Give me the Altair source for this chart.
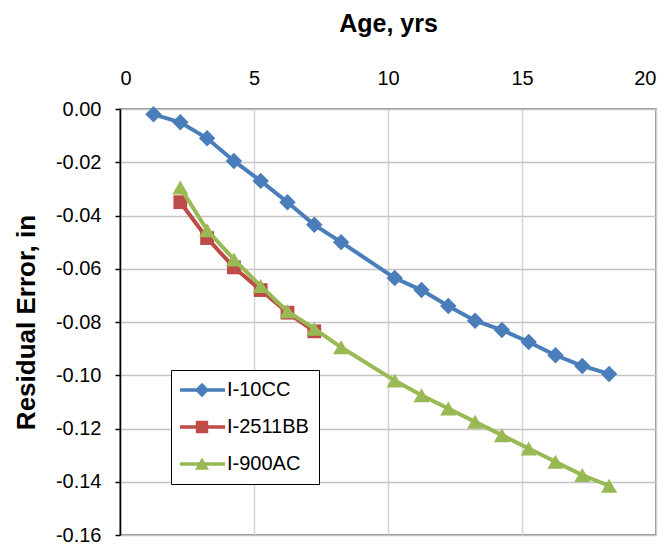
import altair as alt
import pandas as pd

series = ["I-10CC", "I-2511BB", "I-900AC"]
colors = ["#4a7ebb", "#be4b48", "#98b954"]
shapes = ["diamond", "square", "triangle-up"]
marker_sizes = [270, 190, 260]

age_10cc = [1.25, 2.25, 3.25, 4.25, 5.25, 6.25, 7.25, 8.25, 10.25, 11.25,
            12.25, 13.25, 14.25, 15.25, 16.25, 17.25, 18.25]
err_10cc = [-0.002, -0.005, -0.011, -0.0195, -0.027, -0.035, -0.0435, -0.050,
            -0.0635, -0.068, -0.074, -0.0795, -0.083, -0.0875, -0.0925, -0.0965, -0.0995]

age_2511bb = [2.25, 3.25, 4.25, 5.25, 6.25, 7.25]
err_2511bb = [-0.035, -0.0485, -0.0595, -0.068, -0.0765, -0.0835]

age_900ac = [2.25, 3.25, 4.25, 5.25, 6.25, 7.25, 8.25, 10.25, 11.25, 12.25,
             13.25, 14.25, 15.25, 16.25, 17.25, 18.25]
err_900ac = [-0.0295, -0.0455, -0.0565, -0.0665, -0.076, -0.0825, -0.0895, -0.102,
             -0.1075, -0.1125, -0.1175, -0.1225, -0.1275, -0.1325, -0.1375, -0.1415]

x_ticks = [0, 5, 10, 15, 20]
y_ticks = [0.0, -0.02, -0.04, -0.06, -0.08, -0.10, -0.12, -0.14, -0.16]

# legend symbols: a line segment with the marker on it
legend_paths = [
    "M-1.1,-0.18H3.4V0.18H-1.1Z M1.1,-0.72L1.82,0L1.1,0.72L0.38,0Z",
    "M-1.1,-0.18H3.4V0.18H-1.1Z M0.48,-0.62H1.72V0.62H0.48Z",
    "M-1.1,-0.18H3.4V0.18H-1.1Z M1.1,-0.65L1.8,0.58L0.4,0.58Z",
]

rows = []
for name, xs, ys in [("I-10CC", age_10cc, err_10cc),
                     ("I-2511BB", age_2511bb, err_2511bb),
                     ("I-900AC", age_900ac, err_900ac)]:
    for a, e in zip(xs, ys):
        rows.append({"series": name, "age": a, "err": e})
df = pd.DataFrame(rows)

FONT = "Liberation Sans"

x_enc = alt.X(
    "age:Q",
    scale=alt.Scale(domain=[0, 20], nice=False),
    axis=alt.Axis(orient="top", values=x_ticks, title="Age, yrs", ticks=False,
                  domain=False, labelPadding=21, labelFontSize=20,
                  titleFontSize=25, titleFontWeight="bold", titlePadding=32,
                  gridColor="#d4d4d4", gridWidth=1.5),
)
y_enc = alt.Y(
    "err:Q",
    scale=alt.Scale(domain=[-0.16, 0], nice=False),
    axis=alt.Axis(values=y_ticks, format=".2f", title="Residual Error, in",
                  labelExpr="replace(datum.label, '\u2212', '-')",
                  tickSize=5, tickWidth=1.5, tickColor="black",
                  domainColor="black", domainWidth=1.5,
                  labelPadding=14, labelFontSize=20,
                  titleFontSize=26, titleFontWeight="bold", titlePadding=16,
                  gridColor="#c4c4c4", gridWidth=1.5),
)

layers = []
for s, c, sh, sz in zip(series, colors, shapes, marker_sizes):
    base = alt.Chart(df).transform_filter(alt.datum.series == s)
    layers.append(base.mark_line(color=c, strokeWidth=4).encode(x=x_enc, y=y_enc))
    layers.append(base.mark_point(filled=True, shape=sh, size=sz, color=c, opacity=1)
                  .encode(x=x_enc, y=y_enc))

legend_kw = dict(orient="none", legendX=51, legendY=261, title=None, padding=10,
                 strokeColor="black", fillColor="white", labelFontSize=20,
                 labelFont=FONT, labelColor="black", symbolSize=400,
                 symbolStrokeWidth=0, labelOffset=26, rowPadding=17,
                 labelExpr="datum.label + '\u00a0\u00a0'")

legend_layer = alt.Chart(df).transform_filter("datum.age > 100").mark_point(
    filled=True, size=400, opacity=1
).encode(
    x=x_enc, y=y_enc,
    color=alt.Color("series:N", scale=alt.Scale(domain=series, range=colors),
                    legend=alt.Legend(**legend_kw)),
    shape=alt.Shape("series:N", scale=alt.Scale(domain=series, range=legend_paths),
                    legend=alt.Legend(**legend_kw)),
)
layers.append(legend_layer)

chart = alt.layer(*layers).properties(
    width=536, height=426,
    padding={"left": 5, "top": 3, "right": 5, "bottom": 5},
    background="white",
).configure_view(
    stroke="#6f6f6f", strokeWidth=1.5
).configure_axis(
    labelFont=FONT, titleFont=FONT, labelColor="black", titleColor="black"
)

chart.save("out.html", embed_options={"renderer": "svg", "actions": False})
